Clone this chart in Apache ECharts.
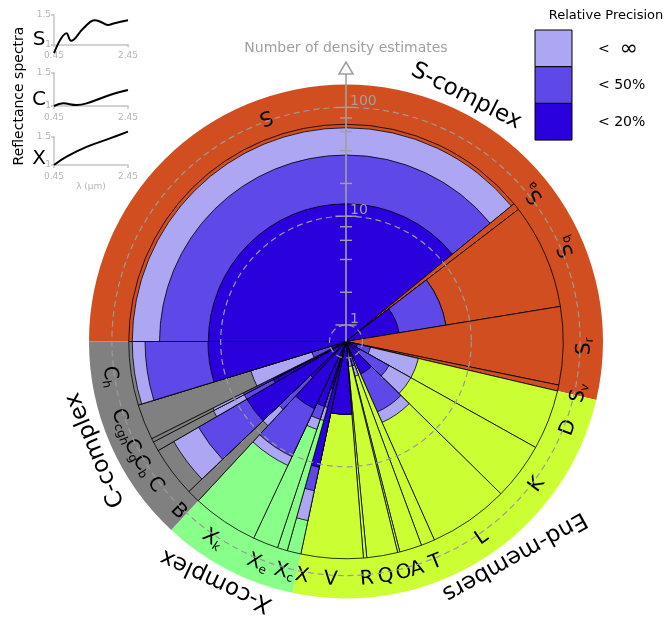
<!DOCTYPE html>
<html>
<head>
<meta charset="utf-8">
<script src="https://cdn.jsdelivr.net/npm/echarts@6.0.0/dist/echarts.min.js"></script>
<style>
html,body{margin:0;padding:0;background:#ffffff;}
#chart{width:672px;height:623px;}
</style>
</head>
<body>
<div id="chart"></div>
<script>
// ---------------- data ----------------
const classNames   = ['S','Sa','Sq','Sr','Sv','D','K','L','T','A','O','Q','R','V','X','Xc','Xe','Xk','B','C','Cb','Cg','Cgh','Ch'];
const classLabels  = ['S','Sa','Sq','Sr','Sv','D','K','L','T','A','O','Q','R','V','X','Xc','Xe','Xk','B','C','Cb','Cg','Ccgh','Ch'];
const classComplex = [0,0,0,0,0,1,1,1,1,1,1,1,1,1,2,2,2,2,3,3,3,3,3,3];
const classShare   = [141.4,1.9,28.3,21,1.6,16.1,15.4,21.6,3.7,6,0.6,8.3,0.9,16.7,3.7,2.7,6.8,17.8,3.5,13.6,2.6,1.0,9.6,17.1];
const countAll     = [65,0,6,0,0,3.4,3.4,4.6,1.3,1.5,1,1.2,1,3.3,34,4,5,12.8,8,47.8,16.7,16.4,5.8,65];
const count50      = [36.5,0,6,0,0,1.2,2.0,3.6,1.0,1.2,1,1,1,3.3,17.8,3,4,10.4,5,26.1,8,8,1.5,49.6];
const count20      = [13,0,2.2,0,0,0.9,1.0,1.5,0,1.0,0,0,0,3.3,10.7,2,3,3.4,2,8,4,4,1.0,13.1];
const categoryMax  = 70;

const complexNames  = ['S-complex','End-members','X-complex','C-complex'];
const complexColors = ['#D14E21','#CCFF33','#88FF88','#808080'];

const radialTicks = [1,2,4,6,8,10,20,40,60,80,100];
const radialMajor = [1,10,100];
const radialGrid  = [1,10,100];

const precisionLabels = ['\u221E','50%','20%'];
const precisionColors = ['#ADA6F2','#5F48E8','#2A00DD'];

const spectraNames = ['S','C','X'];
const specSLambda = [0.45,0.79,0.91,1.24,1.55,1.69,1.91,2.09,2.45];
const specSRefl   = [0.85,1.19,1.06,1.27,1.41,1.39,1.33,1.36,1.41];
const specCLambda = [0.45,0.70,1.06,1.33,1.96,2.45];
const specCRefl   = [1.00,1.04,1.015,1.04,1.165,1.24];
const specXLambda = [0.45,0.79,1.33,1.96,2.45];
const specXRefl   = [1.00,1.147,1.32,1.47,1.59];

// ---------------- layout / style ----------------
const FONT = 'DejaVu Sans';
const AXIS_COLOR = '#a0a0a0';
const CENTER = [346, 341.5];
const OUTER_R = 257;
const CLASS_LABEL_R = 239;
const labelNudge = {X: -3.2, Xc: -2.0, Cb: -2.6, Cgh: 1.0};
const complexLabelPos = [
  {ang: 63.9, r: 273, rot: -27}, {ang: -51.9, r: 273, rot: -151}, {ang: 241.5, r: 272, rot: 155}, {ang: 203.4, r: 273, rot: 112.5}
];

const total = classShare.reduce((a, b) => a + b, 0);
const starts = [];
(function () { let acc = 0; classShare.forEach(w => { starts.push(acc); acc += w; }); })();

function angleAt(api, cs, v) {
  const p = api.coord([1, v]);
  return Math.atan2(p[1] - cs.cy, p[0] - cs.cx);
}
function radiusAt(api, cs, n) {
  const p = api.coord([n, 0]);
  return Math.hypot(p[0] - cs.cx, p[1] - cs.cy);
}
function sector(cs, r0, r, a0, a1, fill, stroke) {
  let e = a1;
  while (e <= a0) e += 2 * Math.PI;
  return {
    type: 'sector',
    shape: {cx: cs.cx, cy: cs.cy, r0: r0, r: r, startAngle: a0, endAngle: e, clockwise: true},
    style: {fill: fill, stroke: stroke || null, lineWidth: stroke ? 0.8 : 0}
  };
}

function renderRing(params, api) {
  const k = params.dataIndex;
  const cs = params.coordSys;
  let s = null, e = null;
  classComplex.forEach((c, i) => {
    if (c === k) {
      if (s === null) s = starts[i];
      e = starts[i] + classShare[i];
    }
  });
  const a0 = angleAt(api, cs, s), a1 = angleAt(api, cs, e);
  const kids = [sector(cs, radiusAt(api, cs, categoryMax) - 1, cs.r, a0, a1, complexColors[k])];
  const pos = complexLabelPos[k];
  const th = pos.ang * Math.PI / 180;
  kids.push({
    type: 'text',
    x: cs.cx + pos.r * Math.cos(th), y: cs.cy - pos.r * Math.sin(th),
    rotation: pos.rot * Math.PI / 180,
    style: {text: complexNames[k], fill: '#000', fontSize: 23, fontFamily: FONT, align: 'center', verticalAlign: 'middle'}
  });
  return {type: 'group', children: kids};
}

function renderWedge(params, api) {
  const i = params.dataIndex;
  const cs = params.coordSys;
  const a0 = angleAt(api, cs, starts[i]);
  const a1 = angleAt(api, cs, starts[i] + classShare[i]);
  const kids = [sector(cs, 0, radiusAt(api, cs, categoryMax), a0, a1, complexColors[classComplex[i]], '#000')];
  [countAll, count50, count20].forEach((arr, k) => {
    if (arr[i] > 0) kids.push(sector(cs, 0, radiusAt(api, cs, arr[i]), a0, a1, precisionColors[k], '#000'));
  });
  // label: tangential, top of the glyphs towards the centre
  const name = classNames[i];
  const lab = classLabels[i];
  const mid = starts[i] + classShare[i] / 2 + (labelNudge[name] || 0);
  const phi = angleAt(api, cs, mid);
  const th = -phi * 180 / Math.PI;
  const rot = th + 90;
  const main = lab.charAt(0), sub = lab.slice(1);
  kids.push({
    type: 'text',
    x: cs.cx + CLASS_LABEL_R * Math.cos(phi), y: cs.cy + CLASS_LABEL_R * Math.sin(phi),
    rotation: rot * Math.PI / 180,
    style: {
      text: sub ? '{m|' + main + '}{s|' + sub + '}' : '{m|' + main + '}',
      align: 'center', verticalAlign: 'middle',
      rich: {
        m: {fontSize: 20, fontFamily: FONT, fill: '#000', lineHeight: 21, padding: [0, 0, 4, 0], verticalAlign: 'top'},
        s: {fontSize: 12, fontFamily: FONT, fill: '#000', lineHeight: 13, verticalAlign: 'bottom'}
      }
    }
  });
  return {type: 'group', children: kids};
}

function renderGrid(params, api) {
  const cs = params.coordSys;
  return {
    type: 'circle',
    shape: {cx: cs.cx, cy: cs.cy, r: radiusAt(api, cs, radialGrid[params.dataIndex])},
    style: {fill: null, stroke: '#9a9a9a', lineWidth: 1.2, lineDash: [6, 4]}
  };
}

function renderAxis(params, api) {
  const i = params.dataIndex;
  const cs = params.coordSys;
  const v = radialTicks[i];
  const y = cs.cy - radiusAt(api, cs, v);
  const major = radialMajor.indexOf(v) >= 0;
  const hw = major ? 10.5 : 6;
  const kids = [{type: 'line', shape: {x1: cs.cx - hw, y1: y, x2: cs.cx + hw, y2: y}, style: {stroke: AXIS_COLOR, lineWidth: 1.4}}];
  if (major) {
    kids.push({type: 'text', x: cs.cx + 4, y: y + 1,
      style: {text: String(v), fill: AXIS_COLOR, fontSize: 14, fontFamily: FONT, align: 'left', verticalAlign: 'bottom'}});
  }
  if (i === 0) {
    const top = cs.cy - cs.r - 10.5;
    kids.push({type: 'line', shape: {x1: cs.cx, y1: cs.cy, x2: cs.cx, y2: top}, style: {stroke: AXIS_COLOR, lineWidth: 1.6}});
    kids.push({type: 'polygon', shape: {points: [[cs.cx - 7, top], [cs.cx + 7, top], [cs.cx, top - 12]]},
      style: {fill: '#fff', stroke: AXIS_COLOR, lineWidth: 1.6}});
    kids.push({type: 'text', x: cs.cx, y: cs.cy - cs.r - 36,
      style: {text: 'Number of density estimates', fill: AXIS_COLOR, fontSize: 14, fontFamily: FONT, align: 'center', verticalAlign: 'middle'}});
  }
  return {type: 'group', children: kids};
}

// ---- spectra insets ----
const insetGrids = [
  {left: 54, top: 15, width: 74, height: 29.3},
  {left: 54, top: 72.7, width: 74, height: 33.3},
  {left: 54, top: 136.7, width: 74, height: 28.3}
];
const spectra = [
  specSLambda.map((x, i) => [x, specSRefl[i]]),
  specCLambda.map((x, i) => [x, specCRefl[i]]),
  specXLambda.map((x, i) => [x, specXRefl[i]])
];
const insetColor = '#c4c4c4';

const option = {
  animation: false,
  backgroundColor: '#fff',
  polar: {center: CENTER, radius: OUTER_R},
  angleAxis: {type: 'value', min: 0, max: total, startAngle: 180, clockwise: true,
    axisLine: {show: false}, axisTick: {show: false}, axisLabel: {show: false}, splitLine: {show: false}},
  radiusAxis: {type: 'log', logBase: 10, min: 0.705, max: 162.4,
    axisLine: {show: false}, axisTick: {show: false}, axisLabel: {show: false}, splitLine: {show: false}},
  grid: insetGrids,
  xAxis: insetGrids.map((g, k) => ({
    gridIndex: k, type: 'value', min: 0.45, max: 2.45,
    axisLine: {lineStyle: {color: insetColor, width: 1.5}},
    axisTick: {customValues: [0.45, 2.45], length: 3, lineStyle: {color: insetColor, width: 1.5}},
    axisLabel: {customValues: [0.45, 2.45], color: '#b4b4b4', fontSize: 9, fontFamily: FONT, margin: 7},
    splitLine: {show: false},
    name: k === 2 ? '\u03BB (\u03BCm)' : '', nameLocation: 'middle', nameGap: 14,
    nameTextStyle: {color: '#b4b4b4', fontSize: 9, fontFamily: FONT}
  })),
  yAxis: insetGrids.map((g, k) => ({
    gridIndex: k, type: 'value', min: 1, max: 1.5, interval: 0.5,
    axisLine: {show: true, lineStyle: {color: insetColor, width: 1.5}},
    axisTick: {show: true, length: 3, lineStyle: {color: insetColor, width: 1.5}},
    axisLabel: {color: '#b4b4b4', fontSize: 9, fontFamily: FONT, margin: 3},
    splitLine: {show: false}
  })),
  graphic: [
    {type: 'text', x: 19, y: 96, rotation: Math.PI / 2,
      style: {text: 'Reflectance spectra', fontSize: 14, fontFamily: FONT, fill: '#000', align: 'center', verticalAlign: 'middle'}},
    {type: 'text', x: 39, y: 40, style: {text: spectraNames[0], fontSize: 20, fontFamily: FONT, fill: '#000', align: 'center', verticalAlign: 'middle'}},
    {type: 'text', x: 39, y: 100, style: {text: spectraNames[1], fontSize: 20, fontFamily: FONT, fill: '#000', align: 'center', verticalAlign: 'middle'}},
    {type: 'text', x: 39, y: 159, style: {text: spectraNames[2], fontSize: 20, fontFamily: FONT, fill: '#000', align: 'center', verticalAlign: 'middle'}},
    {type: 'text', x: 606, y: 16, style: {text: 'Relative Precision', fontSize: 13, fontFamily: FONT, fill: '#000', align: 'center', verticalAlign: 'middle'}}
  ].concat(precisionLabels.map((t, k) => ({
    type: 'group', children: [
      {type: 'rect', shape: {x: 535, y: 30 + k * 36.7, width: 37, height: 36.7}, style: {fill: precisionColors[k], stroke: '#000', lineWidth: 1}},
      {type: 'text', x: 598, y: 49 + k * 36.7, style: {text: '{a|<}' + (k === 0 ? '{i|' + t + '}' : '{a| ' + t + '}'),
        align: 'left', verticalAlign: 'middle',
        rich: {a: {fontSize: 14, fontFamily: FONT, fill: '#000'}, i: {fontSize: 22, fontFamily: FONT, fill: '#000', padding: [0, 0, 0, 10]}}}}
    ]
  }))),
  series: [
    {type: 'custom', coordinateSystem: 'polar', z: 1, silent: true,
      data: complexNames.map((n, k) => [1, k]), encode: {radius: 0, angle: 1}, renderItem: renderRing},
    {type: 'custom', coordinateSystem: 'polar', z: 2, silent: true,
      data: classNames.map((n, i) => [1, starts[i]]), encode: {radius: 0, angle: 1}, renderItem: renderWedge},
    {type: 'custom', coordinateSystem: 'polar', z: 3, silent: true,
      data: radialGrid.map(v => [v, 0]), encode: {radius: 0, angle: 1}, renderItem: renderGrid},
    {type: 'custom', coordinateSystem: 'polar', z: 4, silent: true,
      data: radialTicks.map(v => [v, 0]), encode: {radius: 0, angle: 1}, renderItem: renderAxis}
  ].concat(spectra.map((d, k) => ({
    type: 'line', xAxisIndex: k, yAxisIndex: k, data: d, smooth: 0.4, showSymbol: false, clip: false,
    lineStyle: {color: '#000', width: 2}
  })))
};

const chart = echarts.init(document.getElementById('chart'), null, {renderer: 'canvas'});
chart.setOption(option);
</script>
</body>
</html>
